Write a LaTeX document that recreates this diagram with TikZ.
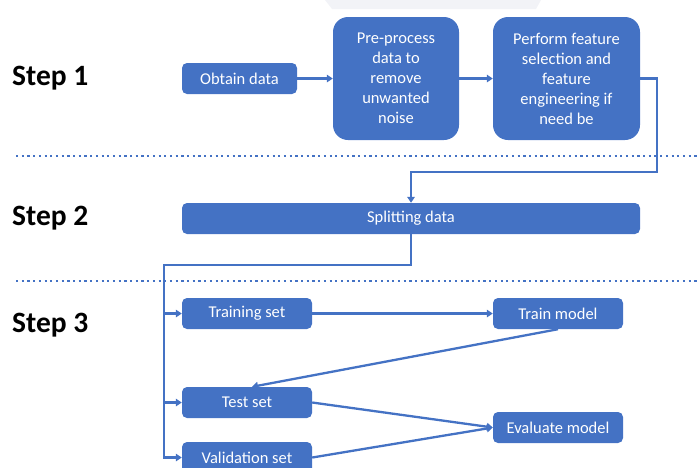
\documentclass[tikz,border=0pt]{standalone}
\usepackage{fontspec}
\setmainfont{Carlito}
\usetikzlibrary{arrows.meta}
\definecolor{obl}{HTML}{4472C4}
\definecolor{faint}{RGB}{242,243,247}
\begin{document}
\begin{tikzpicture}[x=1pt,y=-1pt,
  box/.style={fill=obl, rounded corners=5pt, text=white, font=\fontsize{16.5}{20}\selectfont, inner sep=0pt, align=center},
  bigbox/.style={box, rounded corners=15pt, minimum height=123pt},
  smallbox/.style={box, minimum height=31pt},
  conn/.style={draw=obl, line width=2.3pt},
  arr/.style={conn, -{Triangle[length=6pt,width=7.5pt]}},
  stepl/.style={font=\fontsize{29.5}{34}\selectfont\bfseries, anchor=base west, inner sep=0pt},
  sep/.style={draw=obl, line width=2.2pt, dash pattern=on 2.2pt off 3.5pt}]
\useasboundingbox (0,0) rectangle (698,467);
\clip (0,0) rectangle (698,467);
\fill[faint] (325,0) -- (541,0) -- (536,9) -- (332,9) -- cycle;

% separators
\coordinate (d1a) at (16,156); \coordinate (d1b) at (698,156);
\coordinate (d2a) at (16,281); \coordinate (d2b) at (698,281);
\draw[sep] (d1a) -- (d1b);
\draw[sep] (d2a) -- (d2b);

% step labels
\node[stepl] (s1) at (12,85) {Step 1};
\node[stepl] (s2) at (12,225) {Step 2};
\node[stepl] (s3) at (12,332) {Step 3};

% boxes
\node[smallbox, minimum width=115pt] (obtain) at (239.5,78.5) {Obtain data};
\node[bigbox, minimum width=126pt] (pre) at (396,78.5) {Pre-process\\data to\\remove\\unwanted\\noise};
\node[bigbox, minimum width=147pt] (perf) at (566.5,78.5) {Perform feature\\selection and\\feature\\engineering if\\need be};
\node[smallbox, minimum width=458pt] (split) at (411,218.5) {Splitting data};
\node[smallbox, minimum width=130pt] (trs) at (247,313.5) {Training set};
\node[smallbox, minimum width=130pt] (trm) at (558,313.5) {Train model};
\node[smallbox, minimum width=130pt] (tst) at (247,402.5) {Test set};
\node[smallbox, minimum width=130pt] (evm) at (558,427.5) {Evaluate model};
\node[smallbox, minimum width=130pt] (val) at (247,457.5) {Validation set};

% connectors
\draw[arr] (obtain.east) -- (pre.west);
\draw[arr] (pre.east) -- (perf.west);
\coordinate (c1) at (657,172);
\draw[arr] (perf.east) -| (c1) -| (split.north);
\coordinate (c2) at (164,265);
\draw[arr] (split.south) |- (c2) |- (val.west);
\draw[arr] (c2) |- (trs.west);
\draw[arr] (c2) |- (tst.west);
\draw[arr] (trs.east) -- (trm.west);
\draw[arr] (trm.south) -- ([xshift=5pt]tst.north);
\draw[arr] (tst.east) -- (evm.west);
\draw[arr] (val.east) -- (evm.west);
\end{tikzpicture}
\end{document}
